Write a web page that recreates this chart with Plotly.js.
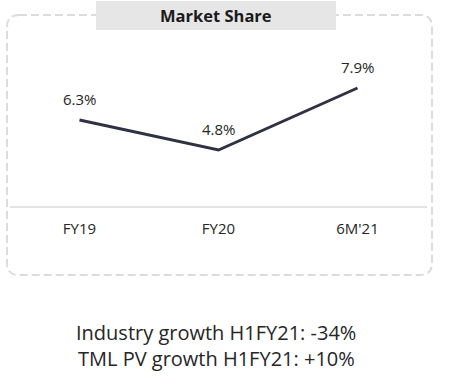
<!DOCTYPE html>
<html>
<head>
<meta charset="utf-8">
<script src="https://cdn.plot.ly/plotly-3.0.1.min.js"></script>
<style>
html,body{margin:0;padding:0;background:#fff;}
#chart{width:452px;height:386px;}
</style>
</head>
<body>
<div id="chart"></div>
<script>
const categories = ["FY19", "FY20", "6M'21"];
const shareValues = [6.3, 4.8, 7.9];
const shareLabels = ["6.3%", "4.8%", "7.9%"];
const chartTitle = "Market Share";
const noteLines = ["Industry growth H1FY21: -34%", "TML PV growth H1FY21: +10%"];

const W = 452, H = 386;
const M = {l: 10, r: 25, t: 30, b: 180};
const pw = W - M.l - M.r, ph = H - M.t - M.b;
const px = p => (p - M.l) / pw;
const py = p => (H - M.b - p) / ph;

const FONT = "Open Sans, sans-serif";
const TXT = "#262626";

function roundRectPath(x0, y0, x1, y1, r) {
  const X = v => px(v), Y = v => py(v);
  return `M ${X(x0 + r)},${Y(y0)} L ${X(x1 - r)},${Y(y0)} Q ${X(x1)},${Y(y0)} ${X(x1)},${Y(y0 + r)} ` +
         `L ${X(x1)},${Y(y1 - r)} Q ${X(x1)},${Y(y1)} ${X(x1 - r)},${Y(y1)} ` +
         `L ${X(x0 + r)},${Y(y1)} Q ${X(x0)},${Y(y1)} ${X(x0)},${Y(y1 - r)} ` +
         `L ${X(x0)},${Y(y0 + r)} Q ${X(x0)},${Y(y0)} ${X(x0 + r)},${Y(y0)} Z`;
}

const trace = {
  x: categories,
  y: shareValues,
  type: "scatter",
  mode: "lines",
  line: {color: "#2e3242", width: 3},
  hoverinfo: "skip"
};

const annotations = categories.map((c, i) => ({
  x: c, y: shareValues[i], xref: "x", yref: "y",
  text: shareLabels[i], showarrow: false,
  xanchor: "center", yanchor: "middle",
  yshift: 21,
  font: {family: FONT, size: 15, color: TXT}
}));

annotations.push({
  x: px(216), y: py(16), xref: "paper", yref: "paper",
  xanchor: "center", yanchor: "middle",
  text: "<b>" + chartTitle + "</b>", showarrow: false,
  font: {family: FONT, size: 16.5, color: "#1a1a1a"}
});
annotations.push({
  x: px(216), y: py(332), xref: "paper", yref: "paper",
  xanchor: "center", yanchor: "middle",
  text: noteLines[0], showarrow: false,
  font: {family: FONT, size: 20, color: TXT}
});
annotations.push({
  x: px(216), y: py(358), xref: "paper", yref: "paper",
  xanchor: "center", yanchor: "middle",
  text: noteLines[1], showarrow: false,
  font: {family: FONT, size: 20, color: TXT}
});

const layout = {
  width: W, height: H,
  margin: M,
  paper_bgcolor: "#ffffff",
  plot_bgcolor: "rgba(0,0,0,0)",
  showlegend: false,
  xaxis: {
    type: "category",
    range: [-0.5, 2.5],
    showgrid: false, zeroline: false,
    showline: true, linecolor: "#e3e3e3", linewidth: 1.5,
    ticks: "outside", ticklen: 8, tickcolor: "rgba(0,0,0,0)",
    tickfont: {family: FONT, size: 15, color: TXT},
    fixedrange: true
  },
  yaxis: {
    range: [2.0, 10.8],
    visible: false,
    fixedrange: true
  },
  shapes: [
    {
      type: "path", xref: "paper", yref: "paper",
      path: roundRectPath(7, 15, 432, 275, 12),
      line: {color: "#dcdcdc", width: 2, dash: "8px,4px"},
      fillcolor: "rgba(0,0,0,0)", layer: "below"
    },
    {
      type: "rect", xref: "paper", yref: "paper",
      x0: px(96), x1: px(336), y0: py(30), y1: py(1),
      fillcolor: "#e6e6e6", line: {width: 0}, layer: "below"
    }
  ],
  annotations: annotations
};

Plotly.newPlot("chart", [trace], layout, {displayModeBar: false, staticPlot: true});
</script>
</body>
</html>
